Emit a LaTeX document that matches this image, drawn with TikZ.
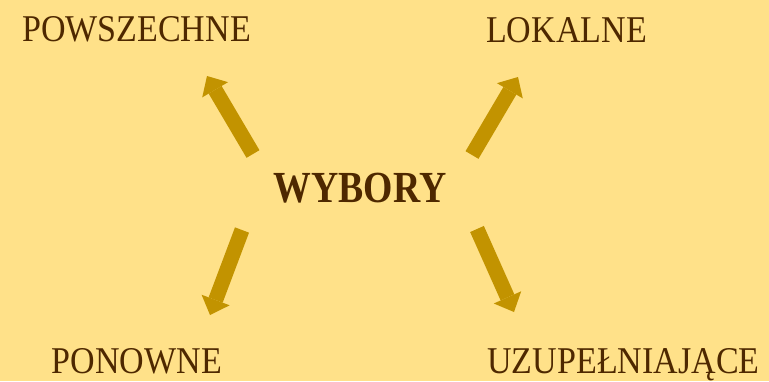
\documentclass[tikz,border=0pt]{standalone}
\usepackage{fontspec}
\setmainfont{Liberation Serif}[FakeStretch=0.9]
\newfontfamily\headfont{Liberation Serif}[FakeStretch=0.85]
\usetikzlibrary{arrows.meta,positioning}

\definecolor{tlo}{HTML}{FFE189}
\definecolor{strzalka}{HTML}{C29300}
\definecolor{napis}{HTML}{4E2800}

\tikzset{
  rodzaj/.style={inner sep=0pt, anchor=base, text=napis, font=\fontsize{37.8}{40}\selectfont},
  glowny/.style={inner sep=0pt, anchor=base, text=napis, font=\headfont\bfseries\fontsize{44.4}{46}\selectfont},
  gruba/.style={color=strzalka, line width=15pt, line cap=butt,
    -{Triangle[width=30pt, length=16pt, line width=0pt, fill=strzalka]}}
}

\begin{document}
\begin{tikzpicture}[x=1pt, y=-1pt]
  \fill[tlo] (0,0) rectangle (769,381);
  \useasboundingbox (0,0) rectangle (769,381);

  \node[glowny] (wybory) at (360,202) {WYBORY};
  \node[rodzaj] (powsz) at (136.5,41) {POWSZECHNE};
  \node[rodzaj] (lokal) at (566.5,42) {LOKALNE};
  \node[rodzaj] (ponow) at (137,373) {PONOWNE};
  \node[rodzaj] (uzup) at (623.5,373) {UZUPEŁNIAJĄCE};

  % poczatki i konce strzalek
  \coordinate (a1) at (253,154);  \coordinate (b1) at (207,76);
  \coordinate (a2) at (472,155);  \coordinate (b2) at (518,77);
  \coordinate (a3) at (242,230);  \coordinate (b3) at (210,315);
  \coordinate (a4) at (477,229);  \coordinate (b4) at (514,312);

  \path[gruba]
  (a1) edge (b1)
  (a2) edge (b2)
  (a3) edge (b3)
  (a4) edge (b4);
\end{tikzpicture}
\end{document}
